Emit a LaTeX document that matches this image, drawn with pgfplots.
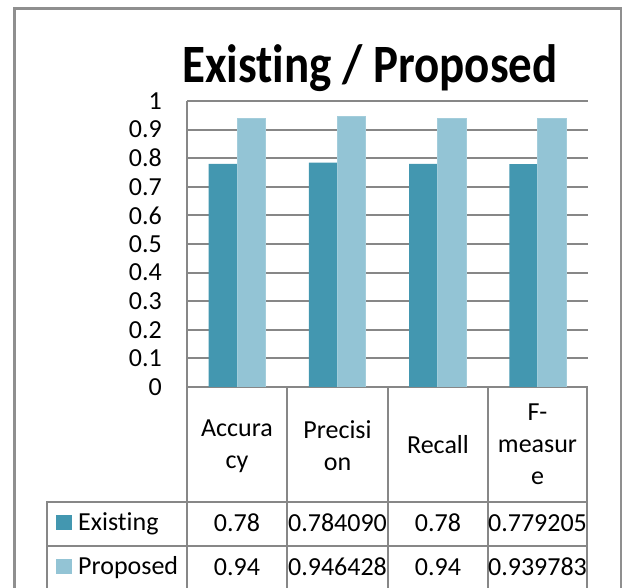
\documentclass[border=0pt]{standalone}
\usepackage{fontspec}
\setmainfont{Carlito}[Ligatures=NoCommon]
\usepackage{pgfplots}
\pgfplotsset{compat=1.18}
\definecolor{exist}{HTML}{4397B0}
\definecolor{prop}{HTML}{93C4D5}
\definecolor{gridc}{HTML}{878787}
\definecolor{framec}{HTML}{8F8F8F}
\begin{document}
\begin{tikzpicture}
\useasboundingbox (0pt,0pt) rectangle (623pt,588pt);
\clip (0pt,0pt) rectangle (623pt,588pt);
% outer chart frame
\draw[framec, line width=2.5pt] (14.5pt,-20pt) -- (14.5pt,579.5pt) -- (621pt,579.5pt) -- (621pt,-20pt);
% title
\node[anchor=base, inner sep=0pt, xscale=0.87, font=\fontsize{54}{60}\selectfont\bfseries] at (370pt,505pt) {Existing / Proposed};
\begin{axis}[
  at={(187pt,201pt)}, anchor=south west,
  scale only axis, width=401pt, height=286pt,
  xmin=-0.5, xmax=3.5, ymin=0, ymax=1,
  axis x line*=bottom, axis y line*=left,
  axis line style={draw=gridc, line width=2pt, -},
  ymajorgrids, major grid style={draw=gridc, line width=2pt},
  xtick=\empty,
  ytick={0,0.1,0.2,0.3,0.4,0.5,0.6,0.7,0.8,0.9,1},
  yticklabels={0,0.1,0.2,0.3,0.4,0.5,0.6,0.7,0.8,0.9,1},
  major tick length=0pt,
  yticklabel style={font=\fontsize{26}{26}\selectfont, inner sep=0pt, anchor=east, xshift=-25pt},
  ybar, bar width=28.5pt,
]
\addplot[fill=exist, draw=none, bar shift=-14.25pt] coordinates {(0,0.78) (1,0.784090) (2,0.78) (3,0.779205)};
\addplot[fill=prop, draw=prop!85!white, line width=0.8pt, bar shift=14.25pt] coordinates {(0,0.94) (1,0.946428) (2,0.94) (3,0.939783)};
\end{axis}
% data table grid
\begin{scope}[draw=gridc, line width=2pt]
\foreach \x in {187,287,388,488,587} \draw (\x pt,201pt) -- (\x pt,-10pt);
\draw (47pt,86pt) -- (588pt,86pt);
\draw (47pt,42pt) -- (588pt,42pt);
\draw (47pt,-2pt) -- (588pt,-2pt);
\draw (47pt,87pt) -- (47pt,-10pt);
\end{scope}
% header labels
\begin{scope}[every node/.style={align=center, inner sep=0pt, font=\fontsize{26}{32}\selectfont}]
\node at (237pt,142pt) {Accura\\cy};
\node at (337.5pt,142pt) {Precisi\\on};
\node at (438pt,143.5pt) {Recall};
\node at (537.5pt,143.5pt) {F-\\measur\\e};
\end{scope}
% rows
\begin{scope}[every node/.style={anchor=base, inner sep=0pt, font=\fontsize{26}{32}\selectfont}]
\node at (237pt,56pt) {0.78};
\node at (337.5pt,56pt) {0.784090};
\node at (438pt,56pt) {0.78};
\node at (537.5pt,56pt) {0.779205};
\node at (237pt,12pt) {0.94};
\node at (337.5pt,12pt) {0.946428};
\node at (438pt,12pt) {0.94};
\node at (537.5pt,12pt) {0.939783};
\node[anchor=base west] at (78pt,57pt) {Existing};
\node[anchor=base west] at (78pt,13pt) {Proposed};
\end{scope}
\fill[exist] (56pt,58pt) rectangle (72pt,73pt);
\fill[prop] (56pt,14pt) rectangle (72pt,29pt);
\end{tikzpicture}
\end{document}
